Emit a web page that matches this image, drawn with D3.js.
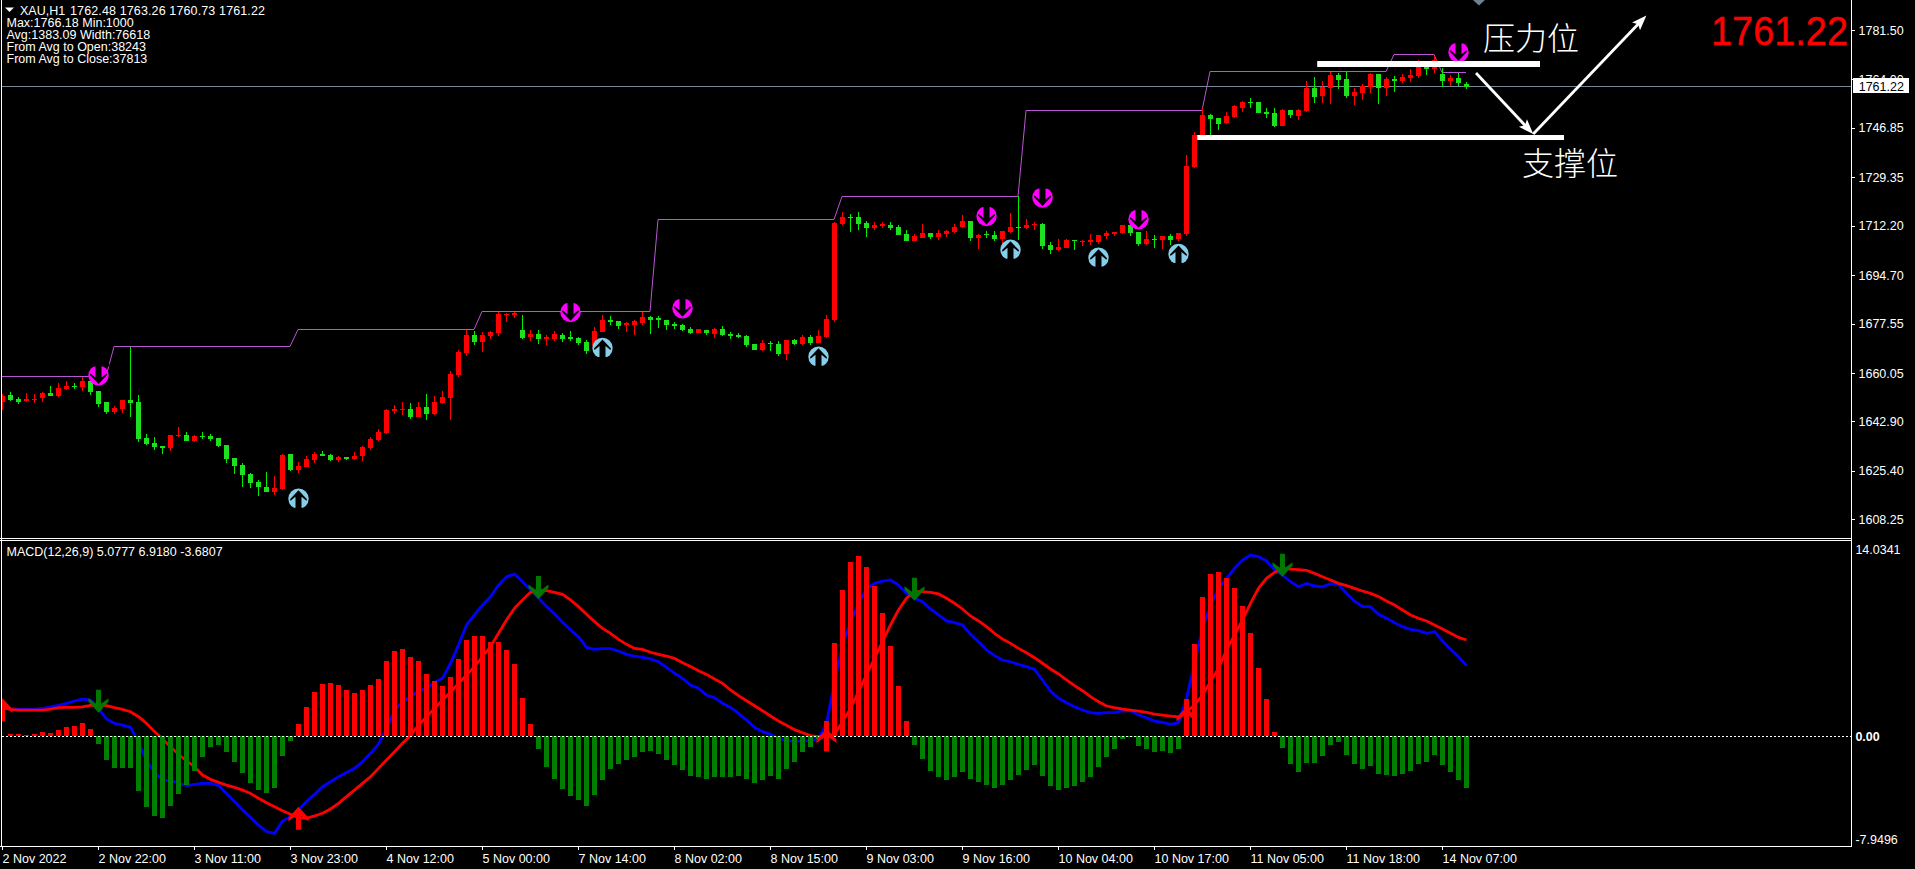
<!DOCTYPE html>
<html><head><meta charset="utf-8">
<script src="https://cdn.jsdelivr.net/npm/d3@7/dist/d3.min.js"></script>
<style>
html,body{margin:0;padding:0;background:#000;overflow:hidden}
svg{display:block}
text{font-family:"Liberation Sans",Arial,sans-serif;font-size:12.5px;fill:#fff}
</style></head><body>
<svg id="c" width="1915" height="869"></svg>
<script>
const candleOpen=[1649.76,1652.24,1650.95,1650.12,1650.59,1651.18,1652.95,1651.89,1654.37,1655.55,
1655.08,1657.2,1653.66,1649.76,1646.22,1647.29,1650.47,1649.76,1637.02,1635.25,
1634.18,1633.47,1637.61,1638.08,1635.95,1637.72,1637.72,1637.02,1634.54,1629.93,
1627.45,1624.27,1621.43,1619.66,1617.89,1618.96,1631.35,1625.68,1626.75,1629.22,
1631.35,1630.99,1629.22,1630.29,1629.58,1630.64,1633.47,1636.31,1638.79,1646.58,
1646.93,1647.29,1644.45,1647.99,1645.51,1649.41,1651.18,1659.33,
1667.0,1673.49,1671.02,1673.14,1674.2,1680.58,1680.58,1675.27,1672.79,1673.85,
1672.08,1672.08,1673.49,1672.79,1672.43,1671.02,1669.6,1674.56,1678.81,1678.45,
1677.04,1677.04,1677.74,1679.87,1679.51,1678.81,1677.39,1677.04,1675.62,1674.2,
1675.27,1673.85,1675.62,1673.85,1673.49,1673.14,1670.31,1668.18,1670.66,1670.31,
1666.77,1671.72,1670.31,1672.79,1670.66,1672.79,1678.81,
1712.8,1715.28,1715.28,1713.15,1711.38,1712.09,1712.45,1711.74,1709.26,1706.78,
1707.84,1709.61,1708.2,1709.26,1709.97,1711.74,1713.86,1707.84,1709.26,1708.9,
1707.49,1709.97,1711.74,1711.38,1712.45,1712.8,1705.36,1703.59,1704.3,1707.13,
1706.43,1706.43,1706.43,1708.55,1709.26,1709.61,1712.45,1709.97,1705.72,1707.49,
1707.13,1708.55,1707.49,1709.26,1732.98,
1744.32,1751.4,1750.34,1748.57,1750.69,1753.88,1756.0,1756.0,1752.46,1752.11,
1747.51,1753.17,1751.05,1752.82,1760.96,1758.13,1760.96,1765.57,1764.15,1758.13,
1759.19,1761.32,1765.92,1760.96,1764.15,1763.44,1764.5,1765.21,1769.11,1767.69,
1765.92,1763.44,1764.5,1762.48];
const candleHigh=[1652.6,1653.31,1651.54,1652.95,1652.6,1653.31,1655.43,1656.49,1657.2,1656.49,
1658.62,1657.56,1653.66,1649.76,1648.35,1650.47,1669.36,1652.24,1638.43,1637.37,
1634.18,1638.08,1640.91,1639.14,1638.08,1639.14,1638.43,1637.02,1634.54,1629.93,
1628.16,1624.62,1622.14,1624.98,1623.56,1631.35,1631.35,1628.52,1630.64,1632.06,
1632.41,1631.35,1630.64,1630.29,1632.06,1634.18,1637.37,1640.2,1647.29,1648.7,
1649.76,1649.41,1649.76,1652.6,1651.89,1653.66,1660.74,1668.18,
1675.27,1674.91,1674.56,1674.91,1681.64,1681.29,1681.64,1680.58,1675.27,1675.27,
1673.49,1674.91,1674.2,1674.91,1672.79,1671.72,1676.33,1680.58,1680.22,1678.45,
1678.1,1678.81,1681.64,1680.22,1680.22,1678.81,1678.1,1677.39,1676.33,1675.62,
1675.27,1675.97,1676.68,1674.56,1674.2,1673.49,1670.31,1671.72,1671.37,1671.37,
1671.72,1672.08,1673.49,1673.49,1675.27,1680.58,1713.51,
1717.05,1716.34,1717.05,1713.86,1713.51,1713.51,1713.51,1712.45,1710.68,1709.26,
1712.8,1709.61,1710.68,1710.68,1712.8,1715.99,1713.86,1709.26,1710.32,1710.32,
1710.32,1716.7,1722.72,1714.57,1713.51,1713.15,1706.43,1707.49,1707.49,1707.13,
1707.13,1709.26,1708.9,1710.32,1709.97,1712.45,1713.15,1709.97,1710.32,1708.9,
1708.55,1709.26,1709.61,1737.23,1745.38,
1753.88,1751.76,1750.34,1752.46,1754.94,1756.36,1757.42,1756.0,1753.88,1753.88,
1753.53,1753.17,1753.53,1763.44,1764.86,1763.44,1766.63,1766.27,1766.63,1760.96,
1762.38,1766.27,1765.92,1764.86,1765.21,1765.92,1767.69,1770.88,1769.46,1772.29,
1768.05,1765.57,1766.27,1763.26];
const candleLow=[1646.93,1650.12,1649.17,1649.76,1649.41,1649.76,1651.89,1651.54,1654.01,1654.37,
1653.66,1652.24,1647.99,1645.51,1645.51,1645.87,1644.45,1635.6,1634.54,1632.77,
1631.35,1632.41,1637.37,1635.95,1635.6,1636.66,1635.95,1633.83,1628.16,1624.27,
1619.66,1619.31,1616.48,1617.89,1616.83,1618.6,1625.33,1624.62,1626.75,1628.16,
1630.64,1628.87,1628.52,1629.22,1629.22,1628.87,1632.77,1635.95,1638.43,1645.51,
1645.16,1643.74,1644.45,1643.39,1645.16,1649.06,1643.39,1658.62,
1666.18,1669.95,1667.47,1672.08,1673.26,1678.1,1679.51,1672.08,1671.37,1670.31,
1669.95,1671.37,1671.02,1671.37,1669.95,1666.77,1669.25,1674.56,1677.04,1675.62,
1674.56,1673.49,1677.04,1673.85,1675.97,1675.27,1675.62,1674.91,1673.85,1674.2,
1673.49,1672.43,1673.14,1672.08,1672.43,1669.25,1668.18,1667.83,1667.83,1666.06,
1664.64,1669.95,1669.95,1669.95,1670.66,1672.43,1678.1,
1712.45,1709.97,1710.68,1708.2,1710.68,1711.38,1710.68,1708.9,1706.78,1706.78,
1707.84,1707.49,1707.13,1708.2,1709.61,1711.38,1706.78,1703.95,1707.84,1706.78,
1705.36,1709.61,1707.13,1711.03,1710.68,1703.95,1702.18,1703.24,1704.3,1703.59,
1705.01,1705.36,1705.72,1707.49,1708.55,1709.26,1708.55,1705.01,1705.36,1704.3,
1703.95,1705.36,1706.78,1708.55,1732.63,
1744.0,1744.32,1746.09,1748.21,1750.34,1752.46,1753.88,1752.11,1750.34,1747.15,
1747.51,1750.34,1749.63,1752.46,1755.65,1755.65,1755.3,1760.61,1757.42,1754.94,
1756.71,1759.19,1755.3,1758.13,1759.55,1762.73,1763.09,1764.5,1765.57,1766.27,
1761.32,1761.67,1761.67,1760.73];
const candleClose=[1651.89,1650.47,1649.76,1650.83,1650.95,1652.95,1651.89,1654.72,1655.43,1655.2,
1657.2,1653.31,1649.06,1646.22,1647.64,1650.47,1649.41,1636.66,1634.89,1633.83,
1633.59,1638.08,1637.96,1635.95,1637.72,1637.37,1636.66,1634.18,1629.58,1627.1,
1623.91,1621.08,1619.66,1617.89,1619.31,1630.99,1625.68,1627.1,1629.58,1631.35,
1630.64,1629.22,1630.29,1629.58,1630.64,1633.83,1636.66,1639.14,1646.93,1647.29,
1647.29,1644.45,1647.99,1645.51,1649.76,1651.54,1659.68,1667.47,
1673.49,1671.02,1673.49,1674.56,1680.93,1680.93,1681.29,1672.43,1673.85,1672.08,
1672.79,1673.85,1672.08,1672.08,1670.66,1667.83,1674.91,1678.81,1678.1,1676.68,
1677.74,1678.45,1679.87,1678.81,1678.81,1677.04,1676.68,1675.27,1674.2,1675.62,
1674.2,1675.62,1673.49,1673.14,1672.79,1669.95,1668.18,1670.66,1670.31,1666.77,
1671.72,1670.31,1672.79,1670.66,1673.14,1679.16,1713.15,
1715.28,1714.92,1712.8,1711.38,1712.45,1712.8,1711.38,1708.9,1706.78,1708.55,
1709.61,1708.2,1709.61,1710.32,1711.74,1713.86,1707.84,1708.9,1708.9,1707.49,
1710.32,1711.74,1711.38,1712.45,1712.8,1705.01,1703.59,1704.66,1707.13,1706.78,
1706.78,1707.13,1708.9,1709.61,1709.97,1712.45,1709.61,1705.72,1707.49,1707.13,
1708.55,1707.13,1709.61,1733.34,1744.32,
1751.4,1749.98,1748.21,1751.05,1754.59,1756.0,1755.65,1752.11,1751.76,1747.51,
1753.17,1751.4,1753.17,1760.96,1757.77,1761.32,1765.57,1763.8,1758.13,1759.55,
1761.67,1765.92,1760.96,1764.15,1763.44,1764.86,1765.57,1770.17,1767.69,1770.88,
1763.44,1764.5,1762.73,1761.22];

const macdHist=[0.05,0.14,0.14,0.07,0.14,0.31,0.24,0.46,0.67,0.74,0.96,0.53,-0.55,-1.70,-2.28,-2.28,-2.28,-3.93,-5.08,-5.72,
-5.87,-5.01,-4.14,-3.50,-2.49,-1.48,-0.77,-0.62,-1.13,-1.84,-2.63,-3.35,-3.86,-4.07,-3.71,-1.41,-0.34,0.89,2.11,3.19,
3.76,3.83,3.69,3.33,3.11,3.33,3.69,4.12,5.41,6.13,6.27,5.70,5.41,4.48,3.98,3.62,4.26,5.56,6.92,7.21,
7.21,6.78,6.78,6.20,5.20,2.75,0.89,-0.91,-2.20,-3.07,-3.78,-4.29,-4.57,-5.01,-4.22,-3.14,-2.35,-1.99,-1.70,-1.48,
-1.13,-1.05,-1.27,-1.70,-2.06,-2.42,-2.85,-2.92,-3.07,-2.92,-2.92,-2.92,-2.85,-3.07,-3.35,-3.14,-2.85,-3.07,-2.35,-1.84,
-1.13,-0.77,-0.19,1.10,6.71,10.51,12.53,12.96,12.17,10.80,8.86,6.49,3.62,1.10,-0.62,-1.63,-2.49,-2.92,-3.14,-2.92,
-2.56,-3.07,-3.28,-3.50,-3.71,-3.50,-3.14,-2.78,-2.42,-2.06,-2.85,-3.57,-3.86,-3.71,-3.57,-3.28,-2.92,-2.20,-1.48,-0.91,
-0.19,-0.07,-0.69,-0.91,-1.13,-1.05,-1.20,-0.91,2.68,6.63,10.01,11.66,11.81,11.38,10.66,9.36,7.42,4.91,2.68,0.31,
-0.84,-1.99,-2.56,-1.92,-1.92,-1.41,-0.62,-0.41,-1.34,-1.99,-2.35,-2.13,-2.71,-2.78,-2.85,-2.71,-2.49,-1.99,-1.84,-1.34,
-2.06,-2.56,-3.14,-3.68];
const macdLine=[2.06,2.01,1.94,1.94,1.96,2.01,2.11,2.23,2.37,2.54,2.68,2.61,1.96,1.25,0.93,0.81,0.65,-0.43,-1.77,-2.59,
-3.14,-3.19,-3.35,-3.54,-3.45,-3.38,-3.38,-3.54,-4.10,-4.69,-5.29,-5.82,-6.37,-6.85,-6.97,-6.08,-5.77,-5.29,-4.69,-4.17,
-3.62,-3.26,-2.90,-2.59,-2.30,-1.82,-1.22,-0.57,0.57,1.89,2.49,2.85,3.26,3.45,3.88,4.17,5.25,6.56,8.00,8.72,
9.44,10.04,10.87,11.47,11.66,11.11,10.51,9.92,9.32,8.79,8.19,7.64,7.16,6.39,6.25,6.30,6.30,6.13,5.89,5.77,
5.68,5.56,5.36,4.96,4.53,4.17,3.69,3.45,2.97,2.78,2.37,2.08,1.65,1.17,0.65,0.34,0.14,-0.14,-0.31,-0.34,
-0.34,-0.31,-0.19,0.93,3.93,6.56,8.24,9.56,10.63,10.99,11.16,11.23,10.87,10.27,9.92,9.68,9.15,8.72,8.29,8.17,
8.00,7.33,6.80,6.20,5.80,5.48,5.36,5.17,5.01,4.81,4.05,3.26,2.73,2.42,2.13,1.89,1.70,1.65,1.70,1.70,
1.84,1.84,1.53,1.34,1.10,1.01,0.86,0.98,2.73,5.25,7.76,9.44,10.63,11.35,12.07,12.67,13.03,12.91,12.60,11.95,
11.59,11.11,10.75,10.99,10.80,10.75,10.95,10.92,10.27,9.72,9.32,9.32,8.77,8.48,8.17,7.88,7.69,7.59,7.40,7.52,
6.85,6.27,5.72,5.08];
const signalLine=[2.06,1.94,1.89,1.89,1.89,1.89,1.96,2.06,2.08,2.08,2.11,2.23,2.25,2.20,2.06,1.94,1.77,1.41,0.93,0.34,
-0.19,-0.74,-1.29,-1.77,-2.18,-2.78,-3.09,-3.31,-3.50,-3.66,-3.86,-4.10,-4.45,-4.77,-5.05,-5.34,-5.60,-5.84,-5.89,-5.72,
-5.53,-5.22,-4.81,-4.33,-3.86,-3.38,-2.90,-2.30,-1.70,-1.10,-0.50,0.05,0.81,1.41,2.01,2.61,3.16,3.81,4.41,5.01,
5.72,6.44,7.40,8.36,9.20,9.80,10.35,10.51,10.47,10.35,10.20,9.80,9.32,8.77,8.24,7.76,7.40,6.97,6.61,6.32,
6.25,6.04,5.89,5.77,5.60,5.29,5.01,4.72,4.45,4.12,3.81,3.33,2.92,2.56,2.20,1.84,1.46,1.10,0.79,0.48,
0.26,0.05,-0.02,0.02,0.14,1.05,2.01,3.21,4.41,5.60,6.80,8.00,9.08,9.92,10.39,10.39,10.35,10.23,9.92,9.56,
9.15,8.65,8.29,7.88,7.40,6.99,6.68,6.32,6.01,5.65,5.25,4.84,4.48,4.05,3.64,3.28,2.85,2.49,2.18,2.06,
1.96,1.89,1.82,1.72,1.60,1.53,1.46,1.39,1.77,2.25,2.97,3.93,4.89,6.20,7.28,8.36,9.56,10.63,11.35,11.78,
12.07,12.02,11.98,11.93,11.71,11.47,11.23,10.99,10.83,10.63,10.44,10.27,10.04,9.72,9.44,9.08,8.72,8.48,8.29,8.00,
7.71,7.40,7.11,6.92];

const stepStart=[0,14,37,60,82,105,128,151,174,180];
const stepLevel=[1658.83,1669.45,1675.55,1681.89,1714.43,1722.61,1753.34,1766.87,1772.86,1766.52];
const lastBar=183;
const sellIdx=[12,71,85,123,130,142,182];
const sellPrice=[1659.2,1681.6,1683.0,1715.6,1722.2,1714.5,1773.6];
const buyIdx=[37,75,102,126,137,147];
const buyPrice=[1615.5,1668.9,1665.8,1703.7,1700.9,1702.2];
const macdDownIdx=[12,67,114,160];
const macdDownTip=[1.70,9.87,9.75,11.47];
const macdUpIdx=[0,37,103,148];
const macdUpTip=[2.73,-5.05,0.57,2.13];
const priceTicks=[1781.50,1764.00,1746.85,1729.35,1712.20,1694.70,1677.55,1660.05,1642.90,1625.40,1608.25];
const timeTicks=[0,12,24,36,48,60,72,84,96,108,120,132,144,156,168,180];
const timeLabels=["2 Nov 2022","2 Nov 22:00","3 Nov 11:00","3 Nov 23:00","4 Nov 12:00","5 Nov 00:00","7 Nov 14:00","8 Nov 02:00","8 Nov 15:00","9 Nov 03:00","9 Nov 16:00","10 Nov 04:00","10 Nov 17:00","11 Nov 05:00","11 Nov 18:00","14 Nov 07:00"];
const headerLines=["Max:1766.18 Min:1000","Avg:1383.09 Width:76618","From Avg to Open:38243","From Avg to Close:37813"];
const lastPrice=1761.22;
const resistance={from:164.4,to:192.25,level:1769.46,label:"压力位"};
const support={from:149.4,to:195.25,level:1743.43,label:"支撑位"};
const arrowPathIdx=[184.25,191.4,205.55];
const arrowPathPrice=[1766.27,1744.67,1786.63];

const svg=d3.select("#c");
const RIGHT=1852, BOTTOM=847;
const x=d3.scaleLinear().domain([0,1]).range([2,10]);
const y=d3.scaleLinear().domain([1781.5,1608.25]).range([30,519.3]);
const m=d3.scaleLinear().domain([14.0341,-7.9496]).range([541,847]);
const idx=d3.range(candleOpen.length);
const px=v=>Math.round(v);

const clipMain=svg.append("defs");
clipMain.append("clipPath").attr("id","cm").append("rect").attr("x",2).attr("y",0).attr("width",RIGHT-2).attr("height",538);
clipMain.append("clipPath").attr("id","cs").append("rect").attr("x",2).attr("y",541).attr("width",RIGHT-2).attr("height",306);

const main=svg.append("g").attr("clip-path","url(#cm)");
const lastY=px(y(lastPrice))-.5;
// last price line
main.append("line").attr("x1",2).attr("x2",RIGHT).attr("y1",lastY).attr("y2",lastY).attr("stroke","#778899");
// stepped level line
const stepPts=[];
stepStart.forEach((s,k)=>{stepPts.push([s,stepLevel[k]]);const e=k<stepStart.length-1?stepStart[k+1]-1:lastBar;stepPts.push([e,stepLevel[k]]);});
main.append("path").attr("d",d3.line().x(d=>x(d[0])).y(d=>px(y(d[1]))+.5)(stepPts)).attr("fill","none").attr("stroke","#ba55d3").attr("stroke-width",1);
// candles
const cg=main.append("g").attr("shape-rendering","crispEdges");
const col=i=>candleClose[i]>=candleOpen[i]?"#ff0000":"#1fe01f";
const wickCol=i=>candleClose[i]>=candleOpen[i]?"#ff0000":"#00f000";
cg.selectAll(".w").data(idx).join("rect").attr("class","w")
 .attr("x",i=>x(i)).attr("width",1)
 .attr("y",i=>px(y(candleHigh[i]))).attr("height",i=>Math.max(1,px(y(candleLow[i]))-px(y(candleHigh[i]))))
 .attr("fill",wickCol);
cg.selectAll(".b").data(idx).join("rect").attr("class","b")
 .attr("x",i=>x(i)-2).attr("width",5)
 .attr("y",i=>px(y(Math.max(candleOpen[i],candleClose[i]))))
 .attr("height",i=>Math.max(1,px(y(Math.min(candleOpen[i],candleClose[i])))-px(y(Math.max(candleOpen[i],candleClose[i])))))
 .attr("fill",col);
// markers
function marker(g,cx,cy,color,flip){
  const t=g.append("g").attr("transform",`translate(${cx+.5},${cy})${flip?" scale(1,-1)":""}`);
  t.append("circle").attr("r",10.2).attr("fill",color);
  t.append("path").attr("d","M0,-8.5L8.5,0.5L8,2L3,-2L3,11L-3,11L-3,-2L-8,2L-8.5,0.5Z").attr("fill","#000");
  t.append("rect").attr("x",-11).attr("width",22).attr("y",9).attr("height",3).attr("fill","#000");
}
sellIdx.forEach((d,k)=>marker(main,x(d),y(sellPrice[k]),"#ff00ff",true));
buyIdx.forEach((d,k)=>marker(main,x(d),y(buyPrice[k]),"#87ceeb",false));

// annotations
const ann=svg.append("g");
ann.append("rect").attr("x",x(resistance.from)).attr("width",x(resistance.to)-x(resistance.from)).attr("y",y(resistance.level)-3).attr("height",6).attr("fill","#fff");
ann.append("rect").attr("x",x(support.from)).attr("width",x(support.to)-x(support.from)).attr("y",y(support.level)-2.5).attr("height",5).attr("fill","#fff");
function arrow(i0,p0,i1,p1){
  const a=[x(i0),y(p0)],b=[x(i1),y(p1)],an=Math.atan2(b[1]-a[1],b[0]-a[0]);
  const L=Math.hypot(b[0]-a[0],b[1]-a[1]),g=ann.append("g").attr("transform",`translate(${a[0]},${a[1]}) rotate(${an*180/Math.PI})`);
  g.append("rect").attr("x",0).attr("y",-1.4).attr("width",L-8).attr("height",2.8).attr("fill","#fff");
  g.append("path").attr("d",`M${L},0L${L-15},-5.5L${L-12},0L${L-15},5.5Z`).attr("fill","#fff");
}
arrow(arrowPathIdx[0],arrowPathPrice[0],arrowPathIdx[1],arrowPathPrice[1]);
arrow(arrowPathIdx[1],arrowPathPrice[1],arrowPathIdx[2],arrowPathPrice[2]);
const cjk='"Noto Sans CJK SC","Noto Sans",sans-serif';
ann.append("text").text(resistance.label).attr("x",1483).attr("y",50).style("font-family",cjk).style("font-size","32px").style("font-weight",300);
ann.append("text").text(support.label).attr("x",1522).attr("y",175).style("font-family",cjk).style("font-size","32px").style("font-weight",300);
ann.append("text").text(lastPrice.toFixed(2)).attr("x",1711).attr("y",45).attr("textLength",137).attr("lengthAdjust","spacingAndGlyphs")
  .style("font-size","41px").style("fill","#ff0000").attr("stroke","#ff0000").attr("stroke-width",.4);
ann.append("path").attr("d","M1473,0L1485,0L1479,5.5Z").attr("fill","#708090");

// MACD
const sub=svg.append("g").attr("clip-path","url(#cs)");
const ln=d=>d3.line().x((v,i)=>x(i)+.5).y(v=>m(v))(d);
sub.append("path").attr("d",ln(macdLine)).attr("fill","none").attr("stroke","#0000ff").attr("stroke-width",2.8);
sub.append("path").attr("d",ln(signalLine)).attr("fill","none").attr("stroke","#ff0000").attr("stroke-width",2.8);
sub.append("g").attr("shape-rendering","crispEdges").selectAll("rect").data(macdHist).join("rect")
 .attr("x",(v,i)=>x(i)-2).attr("width",5)
 .attr("y",v=>v>=0?m(v):m(0)).attr("height",v=>Math.abs(m(v)-m(0)))
 .attr("fill",v=>v>=0?"#ff0000":"#008000");
sub.append("line").attr("x1",2).attr("x2",RIGHT).attr("y1",px(m(0))+.5).attr("y2",px(m(0))+.5).attr("stroke","#fff").attr("stroke-dasharray","2 2");
const arrowShape="M0,0L10,11L10,14.5L2.5,9L2.5,23L-2.5,23L-2.5,9L-10,14.5L-10,11Z";
macdDownIdx.forEach((d,k)=>sub.append("path").attr("d",arrowShape).attr("transform",`translate(${x(d)+.5},${m(macdDownTip[k])}) scale(1,-1)`).attr("fill","#007800"));
macdUpIdx.forEach((d,k)=>sub.append("path").attr("d",arrowShape).attr("transform",`translate(${x(d)+.5},${m(macdUpTip[k])})`).attr("fill","#ff0000"));

// frame
const fr=svg.append("g").attr("shape-rendering","crispEdges").attr("stroke","#fff").attr("fill","none");
fr.append("line").attr("x1",1.5).attr("x2",1.5).attr("y1",0).attr("y2",BOTTOM);
fr.append("line").attr("x1",RIGHT-.5).attr("x2",RIGHT-.5).attr("y1",0).attr("y2",BOTTOM);
fr.append("line").attr("x1",0).attr("x2",RIGHT).attr("y1",538.5).attr("y2",538.5);
fr.append("line").attr("x1",0).attr("x2",RIGHT).attr("y1",540.5).attr("y2",540.5);

// axes
const pa=svg.append("g").attr("transform",`translate(${RIGHT-.5},0)`).call(d3.axisRight(y).tickValues(priceTicks).tickSize(3).tickPadding(4).tickFormat(d3.format(".2f")));
pa.select(".domain").remove();
pa.selectAll("line").attr("stroke","#fff").attr("shape-rendering","crispEdges");
pa.selectAll("text").attr("fill","#fff");
const xa=svg.append("g").attr("transform",`translate(0,${BOTTOM-.5})`).call(d3.axisBottom(x).tickValues(timeTicks).tickSize(3).tickPadding(4.4).tickFormat((d,i)=>timeLabels[i]));
xa.select(".domain").attr("stroke","#fff").attr("d",`M0,0H${RIGHT}`).attr("shape-rendering","crispEdges");
xa.selectAll("line").attr("stroke","#fff").attr("shape-rendering","crispEdges");
xa.selectAll("text").attr("fill","#fff").attr("text-anchor","start");

// last-price flag
const fg=svg.append("g");
fg.append("rect").attr("x",1853).attr("y",px(y(lastPrice))-9).attr("width",56).attr("height",15).attr("fill","#fff");
fg.append("text").text(lastPrice.toFixed(2)).attr("x",1858.7).attr("y",y(lastPrice)+3.8).style("fill","#000");

// MACD scale labels
const sl=svg.append("g");
sl.append("text").text("14.0341").attr("x",1855.4).attr("y",m(14.0341)+13);
sl.append("text").text("0.00").attr("x",1855.4).attr("y",m(0)+4.5).style("font-weight","bold");
sl.append("text").text("-7.9496").attr("x",1855.4).attr("y",m(-7.9496)-3);

// header
const h=svg.append("g");
h.append("path").attr("d","M5,7.5L14,7.5L9.5,12Z").attr("fill","#fff");
h.append("text").text("XAU,H1").attr("x",20).attr("y",14.5);
h.append("text").text("1762.48 1763.26 1760.73 1761.22").attr("x",70).attr("y",14.5).attr("textLength",195);
headerLines.forEach((t,k)=>h.append("text").text(t).attr("x",6.5).attr("y",27+12*k));
h.append("text").text("MACD(12,26,9) 5.0777 6.9180 -3.6807").attr("x",6.5).attr("y",556);
</script>
</body></html>
